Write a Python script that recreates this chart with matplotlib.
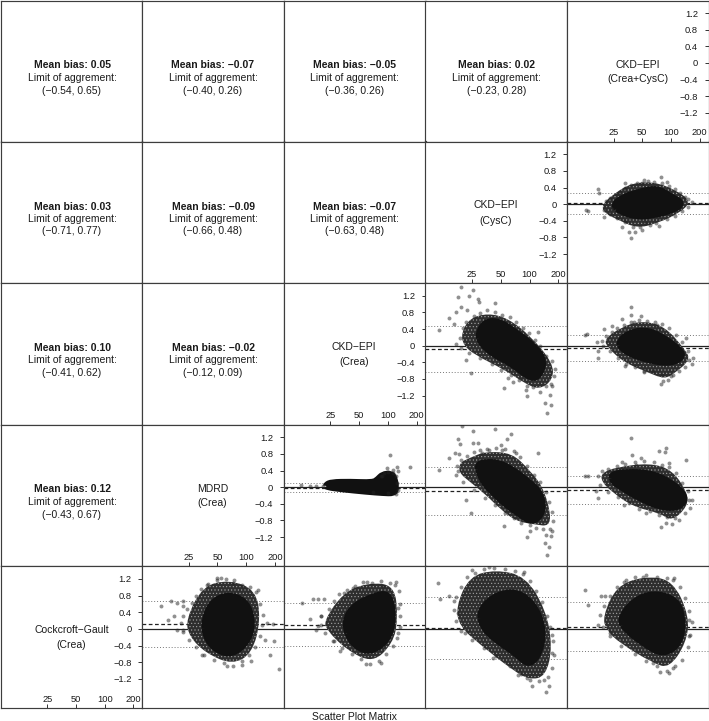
import matplotlib
matplotlib.use("Agg")
import matplotlib.pyplot as plt
from matplotlib.ticker import NullLocator
from matplotlib.path import Path
from matplotlib.patches import PathPatch

plt.rcParams['font.family'] = ['Liberation Sans', 'DejaVu Sans']
plt.rcParams['hatch.linewidth'] = 0.4

W, H = 709, 721
col_edges = [1, 142, 283.7, 425.5, 567, 708.5]
row_edges = [0.5, 141.5, 283, 424.5, 566, 708]
XLIM = (8.14, 247)
YLIM = (-1.896, 1.507)
INK = '#1a1a1a'

diag_labels = [("CKD\u2212EPI", "(Crea+CysC)"), ("CKD\u2212EPI", "(CysC)"), ("CKD\u2212EPI", "(Crea)"),
               ("MDRD", "(Crea)"), ("Cockcroft\u2212Gault", "(Crea)")]
x_ticks = [25, 50, 100, 200]
y_ticks = [-1.2, -0.8, -0.4, 0, 0.4, 0.8, 1.2]
y_tick_labels = ["\u22121.2", "\u22120.8", "\u22120.4", "0", "0.4", "0.8", "1.2"]

# (row, col): mean bias, lower limit, upper limit  (upper triangle of the matrix)
bias = {
    (0, 0): (0.05, -0.54, 0.65), (0, 1): (-0.07, -0.40, 0.26), (0, 2): (-0.05, -0.36, 0.26), (0, 3): (0.02, -0.23, 0.28),
    (1, 0): (0.03, -0.71, 0.77), (1, 1): (-0.09, -0.66, 0.48), (1, 2): (-0.07, -0.63, 0.48),
    (2, 0): (0.10, -0.41, 0.62), (2, 1): (-0.02, -0.12, 0.09),
    (3, 0): (0.12, -0.43, 0.67),
}

# Panel clouds: dense core outline, looser outline, stray points, cloud-edge points
clouds = {}
p14_core_x = [24.6, 32.7, 48, 71.5, 99, 133, 104, 66, 44, 30]
p14_core_y = [-.02, .18, .30, .38, .18, .02, -.14, -.26, -.30, -.18]
p14_halo_x = [18.7, 25.6, 38, 66, 113, 163, 122, 71.5, 44, 28, 20.2]
p14_halo_y = [-.02, .26, .50, .54, .34, .06, -.22, -.46, -.58, -.38, -.22]
p14_pts_x = [78, 32.7, 17, 17.8, 12.8, 13.4, 38, 42, 36, 49.6, 75, 55, 31, 20, 52, 91, 141]
p14_pts_y = [.66, .50, .36, .26, -.14, -.16, -.82, -.67, -.66, -.62, -.52, -.46, -.54, -.30, .58, .54, .18]
p14_edge_x = [21, 23, 24, 27, 29, 33, 38, 44, 50, 58, 66, 80, 95, 110, 125, 150, 165, 150, 130, 110, 90, 70, 60, 47, 40, 33, 27, 23, 20]
p14_edge_y = [.08, .16, -.12, .24, .30, .38, .46, .50, .52, .56, .54, .50, .44, .36, .26, .12, .04, -.06, -.16, -.28, -.36, -.46, -.50, -.56, -.54, -.44, -.34, -.24, -.14]
clouds[(1, 4)] = (p14_core_x, p14_core_y, p14_halo_x, p14_halo_y, p14_pts_x + p14_edge_x, p14_pts_y + p14_edge_y)

p23_core_x = [29, 35, 48, 69.6, 113, 144, 122, 96, 64.7, 42.6, 31]
p23_core_y = [.30, .58, .58, .34, -.02, -.38, -.78, -.74, -.42, -.22, .06]
p23_halo_x = [19.3, 23.6, 36.8, 59.5, 104, 176, 176, 127, 88, 55, 26.6, 20.2]
p23_halo_y = [.30, .66, .78, .66, .22, -.42, -.82, -1.06, -.90, -.58, -.22, .02]
p23_pts_x = [19.3, 25.8, 17.8, 23.2, 29, 29.4, 43.8, 19.3, 22.2, 17.1, 14.4, 16.3, 11.2, 122, 17.1, 21.6, 24.2, 53.9,
             153, 166, 144, 162, 94, 91, 171, 59, 67]
p23_pts_y = [1.40, 1.34, 1.17, 1.20, 1.13, 1.05, 1.02, .94, .85, .82, .66, .53, .38, .33, .04, -.35, -.66, -1.01,
             -1.62, -1.42, -1.38, -1.18, -1.22, -1.06, -.98, -.78, -.87]
p23_edge_x = [18.5, 20, 21.5, 26, 30, 36, 44, 52, 62, 72, 85, 98, 115, 130, 150, 170, 185, 182, 168, 148, 128, 108, 95, 78, 64, 50, 40, 30, 23, 19]
p23_edge_y = [.18, .42, .56, .72, .78, .86, .80, .74, .68, .56, .42, .30, .14, -.02, -.24, -.36, -.55, -.72, -.92, -.98, -1.12, -1.00, -.96, -.82, -.70, -.58, -.44, -.30, -.18, -.06]
clouds[(2, 3)] = (p23_core_x, p23_core_y, p23_halo_x, p23_halo_y, p23_pts_x + p23_edge_x, p23_pts_y + p23_edge_y)

p24_core_x = [28.7, 34.8, 52, 78, 126, 131, 99, 61, 37.7, 30]
p24_core_y = [.08, .28, .38, .24, -.12, -.28, -.42, -.36, -.20, -.04]
p24_halo_x = [20, 30, 48, 85, 139, 160, 107, 85, 56.5, 32, 21.6]
p24_halo_y = [.16, .44, .60, .48, -.08, -.34, -.68, -.80, -.64, -.40, -.04]
p24_pts_x = [37.8, 37.8, 48.5, 30.9, 12.5, 13.3, 17, 17.4, 16.7, 33, 78, 83, 100, 143, 155, 20, 24.3, 52, 40.8, 71.5]
p24_pts_y = [.93, .74, .72, .64, .26, .27, -.30, -.14, .08, -.50, -.93, -.86, -.72, .18, -.34, .40, .48, -.64, .56, .50]
p24_edge_x = [19, 21, 24, 27, 32, 38, 46, 56, 68, 80, 95, 112, 130, 150, 170, 165, 140, 120, 105, 92, 80, 65, 52, 42, 34, 28, 23, 19.5]
p24_edge_y = [.12, .24, .34, .42, .50, .56, .62, .60, .58, .52, .42, .26, .08, -.12, -.30, -.44, -.52, -.60, -.70, -.82, -.70, -.62, -.60, -.52, -.44, -.30, -.12, .00]
clouds[(2, 4)] = (p24_core_x, p24_core_y, p24_halo_x, p24_halo_y, p24_pts_x + p24_edge_x, p24_pts_y + p24_edge_y)

p32_core_x = [22.7, 25.6, 40, 69.6, 78.7, 88, 108, 116, 121, 116, 88, 60, 33, 23]
p32_core_y = [.05, .11, .12, .10, .18, .30, .32, .22, -.02, -.14, -.13, -.10, -.04, .01]
p32_halo_x = p32_core_x
p32_halo_y = p32_core_y
p32_pts_x = [104, 170, 97, 124, 127, 114, 87, 12.4, 15.3, 17.8, 21]
p32_pts_y = [.78, .48, .46, .48, .38, .41, .26, .06, .02, .03, .02]
p32_edge_x = [84, 92, 100, 112, 120, 124, 126, 120, 100, 70]
p32_edge_y = [.26, .34, .36, .34, .26, .10, -.08, -.16, -.15, -.12]
clouds[(3, 2)] = (p32_core_x, p32_core_y, p32_halo_x, p32_halo_y, p32_pts_x + p32_edge_x, p32_pts_y + p32_edge_y)

p33_core_x = [28.6, 34.8, 48, 66, 91, 126, 139, 126, 102, 81, 60, 44, 33.5, 30]
p33_core_y = [.54, .60, .58, .42, .18, -.10, -.46, -.74, -.82, -.66, -.46, -.18, .10, .34]
p33_halo_x = [18.4, 23.4, 34.8, 66, 99, 137, 167, 160, 116, 72, 48, 34.8, 23.4, 18.4]
p33_halo_y = [.58, .70, .86, .82, .42, .02, -.62, -.94, -.90, -.82, -.50, -.18, .14, .34]
p33_pts_x = [19.5, 43.5, 25.8, 63.4, 58.5, 17.8, 18.8, 25.4, 28.9, 14.5, 16.7, 18.4, 122, 11.3, 21.6, 24.4, 53.6, 95,
             102, 154, 144, 160, 171, 167, 148, 37.8, 50, 72, 52, 32]
p33_pts_y = [1.46, 1.41, 1.35, 1.27, 1.16, 1.16, 1.04, 1.06, 1.06, .70, .82, .80, .82, .42, -.31, -.62, -.94, -1.20,
             -1.06, -1.62, -1.34, -1.43, -1.06, -1.18, -1.14, .90, 1.02, .82, .89, .82]
p33_edge_x = [17.5, 19, 22, 26, 30, 36, 45, 56, 68, 80, 95, 112, 130, 148, 160, 172, 176, 165, 140, 118, 100, 82, 68, 56, 44, 34, 26, 20, 17, 18]
p33_edge_y = [.50, .66, .76, .84, .90, .92, .94, .92, .86, .72, .52, .30, .12, -.12, -.36, -.60, -.82, -1.00, -1.00, -.98, -.90, -.86, -.74, -.62, -.44, -.26, -.06, .12, .30, .40]
clouds[(3, 3)] = (p33_core_x, p33_core_y, p33_halo_x, p33_halo_y, p33_pts_x + p33_edge_x, p33_pts_y + p33_edge_y)

p34_core_x = [23.6, 34, 59.5, 96, 133, 139, 114, 75.5, 46.9, 31.3, 24.6]
p34_core_y = [.30, .36, .34, .14, -.14, -.34, -.50, -.47, -.26, -.02, .14]
p34_halo_x = [18.7, 26.7, 59.5, 103, 149, 149, 103, 75.5, 40, 23.6, 18.7]
p34_halo_y = [.34, .48, .58, .42, -.14, -.46, -.82, -.62, -.47, -.10, .14]
p34_pts_x = [38.5, 39, 89, 75.5, 85.5, 143, 49, 31, 12.7, 13.4, 17.4, 16.4, 78, 89, 110, 156, 55, 32, 96, 43]
p34_pts_y = [1.18, .78, .93, .86, .84, .65, .70, .60, .28, .28, -.26, -.10, -.96, -.86, -.74, -.30, -.62, -.44, .58, .54]
p34_edge_x = [17, 19, 22, 27, 33, 42, 52, 66, 80, 95, 112, 130, 150, 165, 160, 140, 120, 103, 90, 75, 60, 46, 36, 28, 22, 18]
p34_edge_y = [.26, .38, .44, .52, .56, .60, .62, .60, .54, .48, .34, .10, -.10, -.30, -.50, -.62, -.78, -.88, -.72, -.66, -.58, -.52, -.38, -.24, -.12, .06]
clouds[(3, 4)] = (p34_core_x, p34_core_y, p34_halo_x, p34_halo_y, p34_pts_x + p34_edge_x, p34_pts_y + p34_edge_y)

p41_core_x = [36.6, 44.4, 66, 99, 116, 107, 72, 48, 37.7]
p41_core_y = [.22, .66, .82, .66, .22, -.26, -.62, -.50, -.18]
p41_halo_x = [23.4, 34.8, 66, 126, 142, 116, 72, 37.7, 25.4]
p41_halo_y = [.22, 1.02, 1.18, .94, .22, -.58, -.86, -.58, -.18]
p41_pts_x = [54.2, 12.9, 16.5, 21.6, 19.1, 15.4, 17.7, 21.8, 19, 22, 223, 177, 196, 189, 167, 157, 132, 34.4, 63, 91,
             112, 39, 72, 50]
p41_pts_y = [1.23, .55, .67, .67, .63, .22, .30, .54, -.02, -.08, -.96, -.62, -.28, .12, .14, -.26, .94, -.62, -.90,
             -.86, -.78, 1.06, 1.10, 1.22]
p41_edge_x = [22, 24, 27, 30, 34, 40, 50, 62, 75, 90, 110, 128, 140, 150, 148, 140, 125, 108, 90, 72, 58, 46, 36, 30, 25, 22, 21]
p41_edge_y = [.30, .48, .62, .80, .96, 1.08, 1.16, 1.20, 1.18, 1.06, 1.00, .88, .60, .34, .10, -.16, -.44, -.62, -.76, -.88, -.82, -.74, -.62, -.44, -.26, -.02, .14]
clouds[(4, 1)] = (p41_core_x, p41_core_y, p41_halo_x, p41_halo_y, p41_pts_x + p41_edge_x, p41_pts_y + p41_edge_y)

p42_core_x = [35, 43, 69.6, 104, 113, 100, 64, 41.5]
p42_core_y = [.14, .54, .78, .86, .22, -.26, -.58, -.34]
p42_halo_x = [21.7, 34, 59.5, 118, 127, 113, 69.6, 36.8, 22.7]
p42_halo_y = [.22, .86, 1.10, 1.06, .22, -.34, -.82, -.50, -.02]
p42_pts_x = [60, 118, 34.6, 16.4, 18.7, 21.3, 12.5, 15.4, 18.7, 17.8, 59.5, 85, 43, 88, 127, 127, 31.5, 26.7, 20]
p42_pts_y = [1.12, 1.06, .86, .72, .72, .72, .62, .23, .06, -.02, -.84, -.82, .98, 1.02, .50, -.10, -.54, -.30, .30]
p42_edge_x = [20, 24, 27, 31, 37, 45, 55, 68, 85, 105, 120, 130, 134, 135, 133, 125, 112, 95, 80, 65, 52, 42, 33, 27, 22, 20]
p42_edge_y = [.30, .48, .66, .84, .94, 1.02, 1.12, 1.10, 1.14, 1.10, 1.12, .90, .60, .30, .04, -.22, -.42, -.60, -.76, -.84, -.72, -.60, -.46, -.28, -.10, .10]
clouds[(4, 2)] = (p42_core_x, p42_core_y, p42_halo_x, p42_halo_y, p42_pts_x + p42_edge_x, p42_pts_y + p42_edge_y)

p43_core_x = [30, 48, 85, 132, 137, 102, 72, 44.4, 32]
p43_core_y = [.46, .86, .86, .30, -.42, -.90, -.58, -.26, .06]
p43_halo_x = [17, 23.4, 44.4, 91, 148, 174, 148, 99, 66, 32, 18.4]
p43_halo_y = [.54, 1.26, 1.42, 1.26, .46, -.42, -1.14, -1.22, -.98, -.42, .06]
p43_pts_x = [11, 11.5, 14.5, 25, 38, 88, 148, 160, 106, 142, 174, 174, 21, 17.7, 16.2, 75, 95, 41]
p43_pts_y = [1.09, .72, .80, 1.42, 1.48, 1.36, -1.52, -1.37, -1.36, -1.22, -.14, -.58, -.10, .38, .66, -1.10, -1.18, -.70]
p43_edge_x = [16, 17, 19, 22, 27, 33, 42, 55, 70, 85, 100, 118, 135, 152, 165, 178, 182, 170, 155, 125, 100, 82, 62, 45, 33, 25, 19, 17]
p43_edge_y = [.46, .76, 1.00, 1.24, 1.34, 1.44, 1.46, 1.44, 1.38, 1.32, 1.14, .90, .64, .30, .04, -.30, -.62, -.94, -1.16, -1.26, -1.22, -1.08, -.90, -.66, -.46, -.26, -.06, .20]
clouds[(4, 3)] = (p43_core_x, p43_core_y, p43_halo_x, p43_halo_y, p43_pts_x + p43_edge_x, p43_pts_y + p43_edge_y)

p44_core_x = [29, 40, 64.7, 114, 133, 124, 83, 51, 34]
p44_core_y = [.22, .66, .86, .70, .22, -.34, -.62, -.34, -.02]
p44_halo_x = [19.3, 26.7, 51, 104, 156, 144, 96, 64.7, 29, 20.9]
p44_halo_y = [.30, 1.02, 1.26, 1.18, .30, -.34, -.94, -.82, -.34, -.02]
p44_pts_x = [12.7, 13.5, 18.7, 20.3, 17, 22.7, 34, 51, 104, 76, 96, 106, 156, 153, 65, 37]
p44_pts_y = [.94, .57, .78, .78, .10, -.10, 1.18, 1.24, 1.18, -1.04, -1.06, -.94, .22, -.18, -.82, 1.02]
p44_edge_x = [18, 20, 23, 27, 32, 42, 55, 72, 90, 108, 125, 140, 155, 166, 160, 150, 130, 110, 90, 72, 55, 42, 30, 23, 19.5]
p44_edge_y = [.34, .56, .80, 1.00, 1.12, 1.24, 1.28, 1.24, 1.22, 1.22, 1.00, .74, .42, .16, -.14, -.44, -.74, -.90, -1.00, -.90, -.76, -.60, -.40, -.18, .04]
clouds[(4, 4)] = (p44_core_x, p44_core_y, p44_halo_x, p44_halo_y, p44_pts_x + p44_edge_x, p44_pts_y + p44_edge_y)

fig = plt.figure(figsize=(W / 100, H / 100), dpi=100, facecolor='white')


def make_axes(r, c):
    x0, x1 = col_edges[c], col_edges[c + 1]
    y0, y1 = row_edges[r], row_edges[r + 1]
    ax = fig.add_axes([x0 / W, 1 - y1 / H, (x1 - x0) / W, (y1 - y0) / H])
    ax.set_xscale('log')
    ax.set_xlim(*XLIM)
    ax.set_ylim(*YLIM)
    ax.xaxis.set_minor_locator(NullLocator())
    ax.set_xticks([])
    ax.set_yticks([])
    for s in ax.spines.values():
        s.set_linewidth(0.85)
        s.set_color('#3d3d3d')
    return ax


def pixel_text(ax, dx, dy, s, **kw):
    """Place text at dx, dy pixels from the panel's top-left corner."""
    ax.annotate(s, xy=(0, 1), xycoords='axes fraction', xytext=(dx, -dy), textcoords='offset pixels',
                ha='center', va='center', color=INK, **kw)


def blob(ax, xs, ys, **kw):
    """Closed smooth outline: the read vertices act as quadratic Bezier control points."""
    n = len(xs)
    verts, codes = [], []
    for i in range(n):
        j = (i + 1) % n
        mx = (xs[i] * xs[j]) ** 0.5
        my = (ys[i] + ys[j]) / 2
        if i == 0:
            m0x = (xs[-1] * xs[0]) ** 0.5
            m0y = (ys[-1] + ys[0]) / 2
            verts.append((m0x, m0y))
            codes.append(Path.MOVETO)
        verts += [(xs[i], ys[i]), (mx, my)]
        codes += [Path.CURVE3, Path.CURVE3]
    ax.add_patch(PathPatch(Path(verts, codes), joinstyle='round', **kw))


for r in range(5):
    for c in range(5):
        ax = make_axes(r, c)
        if r + c < 4:
            m, lo, hi = bias[(r, c)]
            mt = f"{m:.2f}".replace('-', '\u2212')
            pixel_text(ax, 71, 65, f"Mean bias: {mt}", fontsize=7.45, fontweight='bold')
            pixel_text(ax, 71, 77.5, "Limit of aggrement:", fontsize=7.45)
            los = f"{lo:.2f}".replace('-', '\u2212')
            pixel_text(ax, 71, 90, f"({los}, {hi:.2f})", fontsize=7.45)
        elif r + c == 4:
            a, b = diag_labels[r]
            pixel_text(ax, 70.5, 64, a, fontsize=7.45)
            pixel_text(ax, 70.5, 79, b, fontsize=7.45)
            ax.set_xticks(x_ticks, [str(t) for t in x_ticks])
            ax.xaxis.set_minor_locator(NullLocator())
            ax.tick_params(axis='x', direction='in', length=3.2, width=0.7, color='#333333',
                           pad=-9.7, labelsize=6.7, labelcolor=INK)
            ax.set_yticks(y_ticks, y_tick_labels)
            ax.yaxis.set_ticks_position('right')
            ax.tick_params(axis='y', direction='in', length=3.2, width=0.7, color='#333333',
                           pad=-7.5, labelsize=6.7, labelcolor=INK)
            for t in ax.get_yticklabels():
                t.set_ha('right')
        else:
            cx, cy, hx, hy, px, py = clouds[(r, c)]
            m, lo, hi = bias[(4 - c, 4 - r)]
            ax.axhline(0, color='#222222', lw=0.9, zorder=1)
            ax.axhline(m, color='#222222', lw=0.9, ls=(0, (3, 2)), zorder=1)
            ax.axhline(lo, color='#777777', lw=0.7, ls=(0, (1, 2)), zorder=1)
            ax.axhline(hi, color='#777777', lw=0.7, ls=(0, (1, 2)), zorder=1)
            if (r, c) != (3, 2):
                blob(ax, hx, hy, facecolor='#2e2e2e', edgecolor='#a8a8a8', lw=0, hatch='.....', zorder=2)
            blob(ax, cx, cy, facecolor='#111111', edgecolor='#111111', lw=5, zorder=3)
            ax.scatter(px, py, s=8, color='#222222', alpha=0.5, lw=0, zorder=4)

fig.text(354.7 / W, 1 - 717 / H, "Scatter Plot Matrix", ha='center', va='center', fontsize=7.45, color=INK)
fig.savefig('out.png', dpi=100)
